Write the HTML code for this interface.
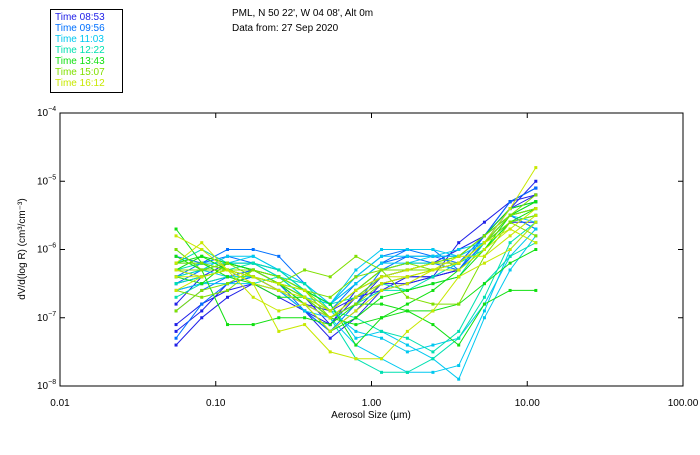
<!DOCTYPE html>
<html><head><meta charset="utf-8"><style>
body{margin:0;background:#fff;width:700px;height:450px;overflow:hidden}
svg text{font-family:"Liberation Sans",sans-serif;font-size:10px}
</style></head><body>
<svg id="chart" width="700" height="450">
<g id="legend"></g>
<text x="232" y="16">PML, N 50 22', W 04 08', Alt 0m</text>
<text x="232" y="31">Data from: 27 Sep 2020</text>
<rect x="60" y="113" width="623" height="273" fill="none" stroke="#000"/>
<g id="axes"></g>
<g id="series"></g>
<text x="371" y="418" text-anchor="middle">Aerosol Size (μm)</text>
<text transform="translate(25,249) rotate(-90)" text-anchor="middle">dV/d(log R) (cm³/cm⁻³)</text>
</svg>
<script>
const legendLabels=["Time 08:53","Time 09:56","Time 11:03","Time 12:22","Time 13:43","Time 15:07","Time 16:12"];
const colors=["#2020e8","#0070ff","#00c8f0","#00e0b0","#10e010","#80e000","#c8e800"];
const sizes=[0.0556,0.0813,0.119,0.174,0.254,0.372,0.543,0.794,1.16,1.70,2.48,3.63,5.31,7.76,11.35];
const xTicks=[0.01,0.1,1,10,100];
const xTickLabels=["0.01","0.10","1.00","10.00","100.00"];
const yTicks=[-4,-5,-6,-7,-8];
const s0=[[-7.4,-7.0,-6.7,-6.5,-6.6,-6.9,-7.3,-7.0,-6.6,-6.5,-6.4,-6.3,-5.9,-5.4,-5.0],[-7.2,-6.9,-6.5,-6.4,-6.6,-6.8,-7.0,-6.8,-6.4,-6.3,-6.3,-6.2,-5.8,-5.3,-5.1],[-6.6,-6.5,-6.4,-6.3,-6.5,-6.7,-7.1,-6.6,-6.4,-6.3,-6.2,-6.0,-5.8,-5.3,-5.2],[-6.8,-6.4,-6.2,-6.3,-6.5,-6.8,-6.9,-6.7,-6.6,-6.4,-6.4,-6.3,-5.9,-5.6,-5.6],[-7.1,-6.8,-6.6,-6.5,-6.7,-6.9,-7.2,-6.9,-6.5,-6.4,-6.4,-5.9,-5.6,-5.3,-5.1],[-6.5,-6.4,-6.3,-6.4,-6.6,-6.9,-7.1,-6.7,-6.5,-6.5,-6.4,-6.3,-5.8,-5.4,-5.2]];
const s1=[[-6.1,-6.2,-6.0,-6.0,-6.1,-6.5,-6.8,-6.4,-6.1,-6.0,-6.1,-6.2,-5.8,-5.3,-5.1],[-6.5,-6.3,-6.2,-6.2,-6.4,-6.7,-6.9,-6.5,-6.2,-6.0,-6.0,-6.3,-5.9,-5.4,-5.3],[-7.3,-6.8,-6.5,-6.4,-6.5,-6.9,-7.2,-6.8,-6.3,-6.2,-6.2,-6.2,-5.9,-5.5,-5.4],[-6.3,-6.4,-6.3,-6.3,-6.4,-6.6,-6.9,-6.6,-6.3,-6.1,-6.2,-6.3,-5.8,-5.5,-5.7],[-6.4,-6.2,-6.1,-6.2,-6.3,-6.6,-6.8,-6.5,-6.2,-6.1,-6.1,-6.1,-5.8,-5.4,-5.3],[-6.9,-6.6,-6.4,-6.3,-6.5,-6.8,-7.0,-6.7,-6.4,-6.3,-6.3,-6.2,-5.9,-5.5,-5.4]];
const s2=[[-6.2,-6.2,-6.2,-6.1,-6.3,-6.5,-6.8,-6.3,-6.0,-6.0,-6.0,-6.1,-5.8,-5.5,-5.4],[-6.6,-6.5,-6.5,-6.5,-6.6,-6.9,-7.0,-7.4,-7.6,-7.8,-7.8,-7.7,-6.9,-6.0,-5.6],[-6.4,-6.3,-6.1,-6.1,-6.3,-6.6,-6.8,-6.5,-6.2,-6.2,-6.1,-6.0,-5.9,-5.6,-5.5],[-6.0,-6.3,-6.4,-6.4,-6.5,-6.7,-6.8,-7.3,-7.2,-7.4,-7.6,-7.9,-7.0,-6.3,-5.8],[-6.3,-6.3,-6.2,-6.2,-6.4,-6.6,-6.8,-6.4,-6.1,-6.1,-6.1,-6.1,-5.9,-5.5,-5.6],[-6.5,-6.4,-6.3,-6.3,-6.4,-6.7,-6.9,-7.2,-7.3,-7.5,-7.4,-7.3,-6.8,-6.1,-5.7]];
const s3=[[-6.3,-6.2,-6.3,-6.2,-6.4,-6.5,-6.9,-7.0,-7.2,-7.3,-7.5,-7.2,-6.5,-6.1,-5.9],[-6.5,-6.4,-6.3,-6.5,-6.4,-6.7,-7.0,-7.6,-7.8,-7.8,-7.6,-7.3,-6.7,-5.9,-5.6],[-6.2,-6.0,-6.2,-6.2,-6.3,-6.6,-6.8,-6.7,-6.5,-6.6,-6.5,-6.4,-5.9,-5.5,-5.3],[-6.7,-6.5,-6.4,-6.4,-6.5,-6.7,-7.0,-6.8,-6.6,-6.6,-6.4,-6.2,-6.0,-5.6,-5.5],[-6.4,-6.3,-6.2,-6.3,-6.4,-6.6,-6.9,-6.6,-6.3,-6.2,-6.2,-6.2,-5.9,-5.5,-5.4]];
const s4=[[-5.7,-6.2,-6.4,-6.5,-6.7,-6.7,-7.0,-7.1,-7.0,-6.9,-6.9,-6.8,-6.5,-6.2,-6.0],[-6.1,-6.3,-7.1,-7.1,-7.0,-7.0,-7.1,-6.8,-6.8,-6.9,-7.1,-7.4,-6.8,-6.6,-6.6],[-6.4,-6.5,-6.2,-6.3,-6.5,-6.6,-6.8,-7.4,-7.0,-6.8,-6.6,-6.3,-6.0,-5.6,-5.4],[-6.3,-6.1,-6.3,-6.4,-6.5,-6.8,-7.2,-7.0,-6.7,-6.6,-6.5,-6.4,-6.0,-5.5,-5.3],[-6.2,-6.1,-6.2,-6.3,-6.4,-6.6,-6.9,-6.6,-6.3,-6.3,-6.2,-6.1,-5.8,-5.4,-5.3]];
const s5=[[-6.2,-6.2,-6.3,-6.4,-6.5,-6.3,-6.4,-6.1,-6.3,-6.7,-6.8,-6.8,-6.1,-5.6,-5.5],[-6.6,-6.7,-6.6,-6.3,-6.4,-6.6,-6.7,-6.4,-6.3,-6.3,-6.2,-6.1,-5.8,-5.5,-5.4],[-6.9,-6.6,-6.5,-6.3,-6.4,-6.6,-7.0,-6.7,-6.4,-6.3,-6.3,-6.2,-5.9,-5.5,-5.2],[-6.0,-6.3,-6.2,-6.4,-6.5,-6.7,-7.0,-6.8,-6.5,-6.4,-6.3,-6.2,-5.9,-5.6,-5.8],[-6.3,-6.3,-6.3,-6.3,-6.5,-6.7,-6.9,-6.6,-6.3,-6.2,-6.3,-6.2,-5.9,-5.5,-5.4]];
const s6=[[-6.2,-5.9,-6.3,-6.5,-7.2,-7.1,-7.5,-7.6,-7.6,-7.2,-6.9,-6.4,-6.2,-6.0,-5.6],[-6.6,-6.4,-6.3,-6.4,-6.5,-6.6,-6.9,-6.6,-6.4,-6.3,-6.2,-6.2,-5.9,-5.4,-4.8],[-6.3,-6.4,-6.3,-6.7,-6.9,-6.8,-7.2,-6.9,-6.6,-6.5,-6.3,-6.1,-6.1,-5.8,-5.5],[-6.4,-6.4,-6.3,-6.4,-6.6,-6.7,-6.9,-6.6,-6.4,-6.4,-6.3,-6.2,-5.9,-5.7,-5.9],[-5.8,-6.0,-6.3,-6.5,-6.6,-6.8,-7.0,-6.7,-6.5,-6.4,-6.3,-6.3,-6.0,-5.7,-5.4]];
const groups=[s0,s1,s2,s3,s4,s5,s6];
const NS="http://www.w3.org/2000/svg";
function X(v){return 60+(Math.log10(v)+2)*155.75;}
function Y(e){return 113+(-4-e)*68.25;}
function mk(tag,attrs,parent){const el=document.createElementNS(NS,tag);for(const k in attrs)el.setAttribute(k,attrs[k]);parent.appendChild(el);return el;}
const axes=document.getElementById('axes');
xTicks.forEach((t,i)=>{
  const x=X(t);
  const a=mk('line',{x1:x,x2:x,y1:386,y2:381,stroke:'#000'},axes);
  
  
  const b=mk('line',{x1:x,x2:x,y1:113,y2:118,stroke:'#000'},axes);
  
  
  const tx=mk('text',{x:x,y:406,'text-anchor':'middle'},axes);tx.textContent=xTickLabels[i];
  
  
});
yTicks.forEach(e=>{
  const y=Y(e);
  const a=mk('line',{x1:60,x2:65,y1:y,y2:y,stroke:'#000'},axes);
  
  
  const b=mk('line',{x1:683,x2:678,y1:y,y2:y,stroke:'#000'},axes);
  
  
  const tx=mk('text',{x:37,y:y+3},axes);
  
  
  tx.appendChild(document.createTextNode('10'));
  const sp=mk('tspan',{dy:-5,'font-size':'7'},tx);sp.textContent=String(e).replace('-','−');
});
const ser=document.getElementById('series');
groups.forEach((g,gi)=>{g.forEach(vals=>{
  const pts=vals.map((v,i)=>X(sizes[i]).toFixed(1)+','+Y(v).toFixed(1)).join(' ');
  const pl=mk('polyline',{points:pts,fill:'none',stroke:colors[gi],'stroke-width':1},ser);
  
  
  vals.forEach((v,i)=>{
    const r=mk('rect',{x:X(sizes[i])-1.5,y:Y(v)-1.5,width:3,height:3,fill:colors[gi]},ser);
    
    
  });
});});
const lg=document.getElementById('legend');
const box=mk('rect',{x:50.5,y:9.5,width:72,height:83,fill:'none',stroke:'#000'},lg);


legendLabels.forEach((l,i)=>{
  const t=mk('text',{x:55,y:20+i*11,fill:colors[i]},lg);t.textContent=l;
  
  
});
</script>
</body></html>
